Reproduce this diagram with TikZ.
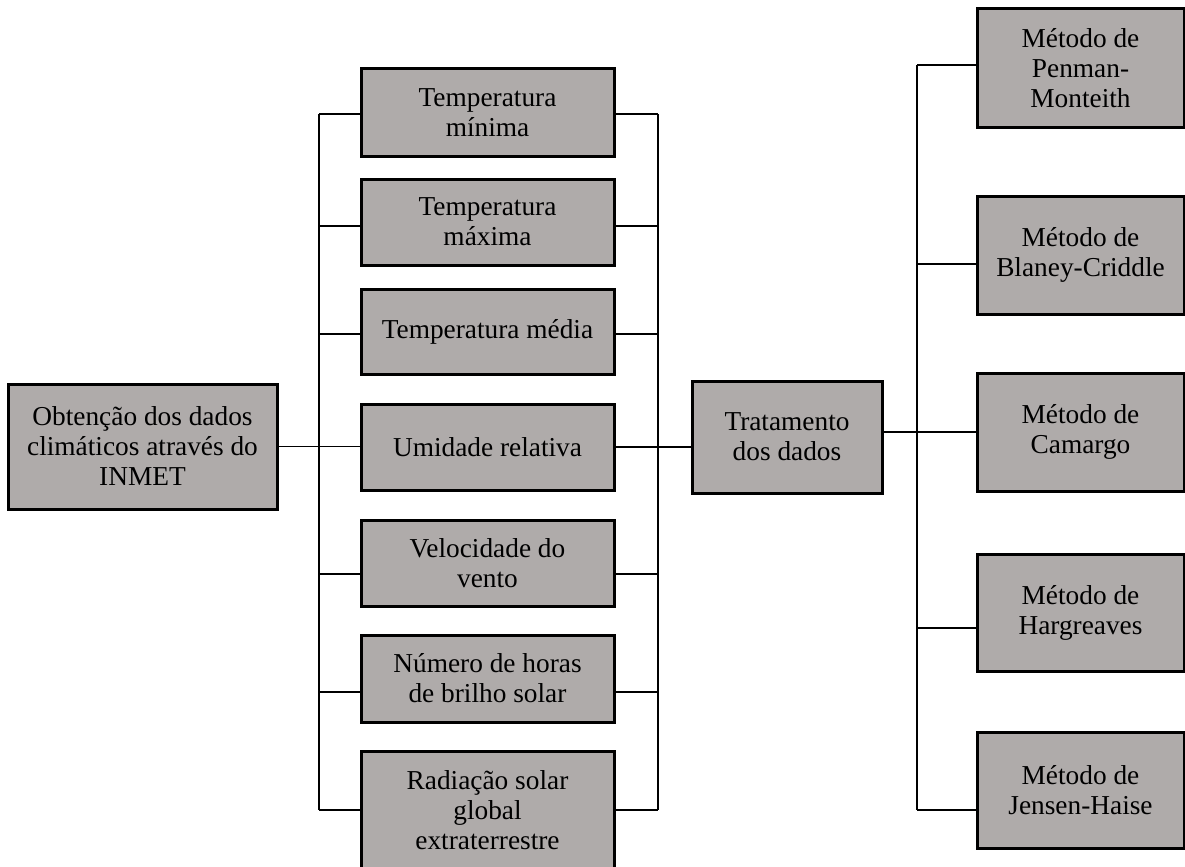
\documentclass[tikz,border=0pt]{standalone}
\usepackage{fontspec}
\setmainfont{Liberation Serif}
\usepackage{tikz}

\begin{document}
\begin{tikzpicture}[x=0.45pt,y=-0.45pt,
    caixa/.style 2 args={draw=black,line width=1.35pt,fill=cinza,align=center,
      inner sep=0pt,minimum width=#1*0.45pt,minimum height=#2*0.45pt,
      font=\fontsize{12.3}{13.5}\selectfont},
    ligacao/.style={line width=0.6pt}]
                        \clip (0,0) rectangle (1185,866);

                        % Changing color 175 171 170
                        \definecolor{cinza}{RGB}{175,171,170}%

                        % Drawing box obtencao
                        \node [caixa={269}{125}] (obt) at (142.5,446.5) {Obtenção dos dados\\climáticos através do\\INMET};%

                        % Drawing boxes of the data
                        \node [caixa={253}{87}] (m1) at (487.5,112.5) {Temperatura\\mínima};%
                        \node [caixa={253}{86}] (m2) at (487.5,222) {Temperatura\\máxima};%
                        \node [caixa={253}{85}] (m3) at (487.5,331.5) {Temperatura média};%
                        \node [caixa={253}{86}] (m4) at (487.5,447) {Umidade relativa};%
                        \node [caixa={253}{86}] (m5) at (487.5,563) {Velocidade do\\vento};%
                        \node [caixa={253}{87}] (m6) at (487.5,678.5) {Número de horas\\de brilho solar};%
                        \node [caixa={253}{118}] (m7) at (487.5,810) {Radiação solar\\global\\extraterrestre};%

                        % Drawing box tratamento
                        \node [caixa={190}{112}] (trat) at (787,437) {Tratamento\\dos dados};%

                        % Drawing boxes of the methods
                        \node [caixa={207}{118}] (r1) at (1080.5,68) {Método de\\Penman-\\Monteith};%
                        \node [caixa={207}{118}] (r2) at (1080.5,255) {Método de\\Blaney-Criddle};%
                        \node [caixa={207}{118}] (r3) at (1080.5,432) {Método de\\Camargo};%
                        \node [caixa={207}{117}] (r4) at (1080.5,612.5) {Método de\\Hargreaves};%
                        \node [caixa={207}{116}] (r5) at (1080.5,790) {Método de\\Jensen-Haise};%

                        % Marking points of the left bus
                        \coordinate (eb1) at (319,114);%
                        \coordinate (eb2) at (319,226);%
                        \coordinate (eb3) at (319,334);%
                        \coordinate (eb4) at (319,447);%
                        \coordinate (eb5) at (319,574);%
                        \coordinate (eb6) at (319,692);%
                        \coordinate (eb7) at (319,810);%

                        % Marking points of the right bus
                        \coordinate (db1) at (658,114);%
                        \coordinate (db2) at (658,226);%
                        \coordinate (db3) at (658,334);%
                        \coordinate (db4) at (658,447);%
                        \coordinate (db5) at (658,574);%
                        \coordinate (db6) at (658,692);%
                        \coordinate (db7) at (658,810);%

                        % Marking points of the methods bus
                        \coordinate (fb1) at (917,65);%
                        \coordinate (fb2) at (917,264);%
                        \coordinate (fb3) at (917,432);%
                        \coordinate (fb4) at (917,628);%
                        \coordinate (fb5) at (917,810);%

                        % Drawing line obt m4
                        \draw [ligacao] (obt.east) -- (obt.east -| m4.west);%

                        % Drawing left bus
                        \draw [ligacao] (eb1) -- (eb7);%
                        \draw [ligacao] (eb1) -- (m1.west |- eb1);%
                        \draw [ligacao] (eb2) -- (m2.west |- eb2);%
                        \draw [ligacao] (eb3) -- (m3.west |- eb3);%
                        \draw [ligacao] (eb5) -- (m5.west |- eb5);%
                        \draw [ligacao] (eb6) -- (m6.west |- eb6);%
                        \draw [ligacao] (eb7) -- (m7.west |- eb7);%

                        % Drawing right bus
                        \draw [ligacao] (db1) -- (db7);%
                        \draw [ligacao] (m1.east |- db1) -- (db1);%
                        \draw [ligacao] (m2.east |- db2) -- (db2);%
                        \draw [ligacao] (m3.east |- db3) -- (db3);%
                        \draw [ligacao] (m5.east |- db5) -- (db5);%
                        \draw [ligacao] (m6.east |- db6) -- (db6);%
                        \draw [ligacao] (m7.east |- db7) -- (db7);%

                        % Drawing line m4 trat
                        \draw [ligacao] (m4.east) -- (m4.east -| trat.west);%

                        % Drawing line trat r3
                        \draw [ligacao] (r3.west -| trat.east) -- (r3.west);%

                        % Drawing methods bus
                        \draw [ligacao] (fb1) -- (fb5);%
                        \draw [ligacao] (fb1) -- (r1.west |- fb1);%
                        \draw [ligacao] (fb2) -- (r2.west |- fb2);%
                        \draw [ligacao] (fb4) -- (r4.west |- fb4);%
                        \draw [ligacao] (fb5) -- (r5.west |- fb5);%
\end{tikzpicture}
\end{document}
